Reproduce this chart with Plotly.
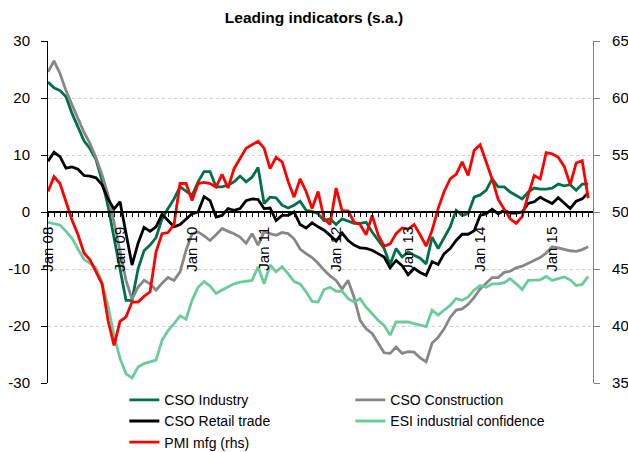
import plotly.graph_objects as go

# ---- categories (monthly, Jan 2008 .. Jul 2015) ----
month_names = ["Jan", "Feb", "Mar", "Apr", "May", "Jun",
               "Jul", "Aug", "Sep", "Oct", "Nov", "Dec"]
months = []
for k in range(91):
    months.append(f"{month_names[k % 12]} {8 + k // 12:02d}")
x_tick_text = [m if m.startswith("Jan") else "" for m in months]

# ---- series (left axis, balance) ----
cso_industry = [22.8, 21.8, 21.3, 20.2, 17.3, 14.9, 12.5, 11.1, 9.2, 5.5,
                1.0, -4.5, -10.0, -15.5, -15.5, -10.0, -6.8, -5.8, -4.5, -1.2,
                0.6, 2.3, 4.4, 3.6, 2.9, 5.3, 7.1, 7.1, 4.4, 4.4,
                4.7, 5.3, 6.3, 5.3, 6.1, 7.8, 1.5, 2.6, 2.5, 1.2,
                0.7, 1.2, 1.9, 0.3, 0.1, -0.3, -1.5, -1.2, -2.2, -1.2,
                -1.6, -2.0, -2.0, -1.8, -3.5, -5.0, -6.4, -9.2, -6.4, -7.9,
                -7.0, -7.6, -8.1, -9.1, -4.4, -6.4, -4.4, -2.6, 0.3, -0.6,
                -0.3, 2.6, 3.0, 3.8, 5.8, 4.4, 4.4, 3.5, 2.9, 2.3,
                3.5, 4.2, 4.0, 4.0, 4.2, 4.9, 4.6, 4.8, 3.8, 4.9,
                4.9]

cso_construction = [24.6, 26.5, 24.3, 21.3, 18.8, 16.4, 14.0, 12.0, 9.5, 6.5,
                    3.0, -1.8, -7.0, -12.0, -15.3, -13.2, -12.0, -12.6, -13.7, -12.5,
                    -11.5, -12.0, -10.5, -6.7, -3.8, -3.5, -4.2, -5.0, -4.0, -2.9,
                    -3.4, -3.8, -4.4, -5.5, -3.8, -5.8, -3.5, -3.8, -4.1, -3.6,
                    -3.8, -4.7, -6.5, -7.3, -8.0, -9.0, -10.2, -11.2, -12.0, -13.5,
                    -12.0, -15.0, -19.0, -20.5, -21.3, -23.0, -24.7, -24.8, -23.7, -24.8,
                    -24.5, -24.6, -25.6, -26.3, -23.0, -22.0, -20.5, -18.5, -17.2, -17.0,
                    -16.2, -15.0, -13.5, -12.5, -11.5, -11.5, -10.6, -10.4, -9.8, -9.5,
                    -9.0, -8.6, -8.0, -7.2, -6.1, -6.3, -6.6, -6.8, -6.9, -6.6,
                    -6.1]

cso_retail = [8.9, 10.5, 9.7, 7.7, 7.9, 7.5, 6.4, 6.3, 6.0, 4.8,
              2.3, 0.5, 1.8, -4.0, -9.3, -5.5, -2.7, -3.4, -2.6, -0.4,
              -1.5, -2.6, -2.2, -1.2, -0.3, 0.0, 2.7, 2.0, -0.9, -0.6,
              0.6, 0.3, 0.6, 2.0, 2.3, 2.2, 0.6, 0.7, -1.5, -0.6,
              -0.6, 0.0, -2.2, -2.8, -1.9, -2.6, -3.2, -4.1, -5.1, -3.7,
              -5.0, -5.8, -6.3, -6.4, -6.7, -7.3, -7.9, -9.8, -8.5, -9.4,
              -11.0, -9.9, -10.6, -11.1, -8.7, -9.2, -7.3, -6.4, -5.0, -3.9,
              -3.9, -3.3, -0.6, -0.3, 0.5, -0.3, 0.3, -0.2, -0.2, 0.0,
              1.5, 1.8, 2.6, 2.0, 1.5, 2.5, 1.5, 0.6, 1.9, 2.3,
              3.4]

esi_industry = [-1.8, -2.0, -2.3, -3.4, -4.6, -6.5, -8.3, -9.0, -9.8, -12.3,
                -16.5, -21.6, -25.7, -28.4, -29.1, -27.2, -26.6, -26.3, -26.0, -22.5,
                -20.8, -19.6, -18.2, -18.8, -15.5, -13.2, -12.2, -13.0, -14.3, -13.7,
                -13.2, -12.6, -12.3, -12.2, -12.0, -9.6, -12.6, -9.3, -10.5, -9.6,
                -10.8, -12.2, -12.6, -14.0, -15.7, -15.8, -13.6, -13.2, -13.9, -13.9,
                -15.2, -15.8, -15.2, -16.7, -17.8, -19.0, -19.9, -21.6, -19.3, -19.3,
                -19.3, -19.6, -19.8, -20.1, -17.2, -18.1, -17.2, -16.4, -15.2, -15.5,
                -14.9, -13.7, -12.9, -13.2, -12.6, -12.6, -12.4, -11.7, -12.6, -13.6,
                -12.0, -12.0, -11.9, -11.3, -12.0, -11.7, -11.4, -11.9, -12.9, -12.7,
                -11.3]

# ---- series (right axis, index) ----
pmi_mfg = [51.8, 53.1, 52.5, 50.8, 49.3, 48.0, 46.4, 45.8, 44.8, 43.7,
           40.5, 38.3, 40.4, 40.8, 42.1, 42.1, 42.6, 43.0, 46.5, 48.1,
           48.2, 48.9, 52.5, 52.5, 51.0, 52.5, 52.6, 52.5, 52.2, 53.3,
           52.1, 53.8, 54.7, 55.6, 55.9, 56.2, 55.6, 53.8, 54.8, 54.4,
           52.7, 51.3, 52.9, 51.8, 50.3, 51.8, 49.4, 48.9, 52.1, 50.1,
           50.1, 49.1, 48.9, 48.0, 49.7, 48.0, 47.0, 47.2, 48.1, 48.6,
           48.5, 48.9, 48.0, 47.0, 48.4, 50.3, 51.8, 52.9, 53.3, 54.4,
           53.2, 55.4, 55.9, 54.4, 52.9, 51.1, 50.3, 49.4, 49.0, 49.6,
           51.5, 53.2, 52.9, 55.2, 55.1, 54.8, 54.0, 52.4, 54.3, 54.5,
           51.2]

# ---- axis tick labels ----
left_ticks = [-30, -20, -10, 0, 10, 20, 30]
left_tick_text = ["-30", "-20", "-10", "0", "10", "20", "30"]
right_ticks = [35, 40, 45, 50, 55, 60, 65]
right_tick_text = ["35", "40", "45", "50", "55", "60", "65"]

series = [
    ("CSO Industry", cso_industry, "#00704A", "y"),
    ("CSO Construction", cso_construction, "#878787", "y"),
    ("CSO Retail trade", cso_retail, "#000000", "y"),
    ("ESI industrial confidence", esi_industry, "#6CCB9A", "y"),
    ("PMI mfg (rhs)", pmi_mfg, "#FF0000", "y2"),
]

fig = go.Figure()
for name, vals, color, yax in series:
    fig.add_trace(go.Scatter(
        x=months, y=vals, name=name, mode="lines", yaxis=yax,
        line=dict(color=color, width=2.8),
    ))

font_family = "Liberation Sans, Arial, Helvetica, sans-serif"

fig.update_layout(
    width=628, height=452,
    margin=dict(l=48, r=35, t=41, b=69, autoexpand=False),
    paper_bgcolor="white", plot_bgcolor="white",
    font=dict(family=font_family, size=15, color="black"),
    title=dict(text="<b>Leading indicators (s.a.)</b>", x=0.5, xref="container",
               xanchor="center", y=0.962, yref="container", yanchor="middle",
               font=dict(size=15.5, family=font_family, color="black")),
    showlegend=True,
    xaxis=dict(type="category", range=[0, 90.8], anchor="free", position=0.5,
               automargin=False,
               showline=True, linecolor="black", linewidth=1.5,
               ticks="outside", ticklen=4, tickwidth=1, tickcolor="black",
               tickvals=months, ticktext=x_tick_text, tickangle=-90,
               showgrid=False, zeroline=False, ticklabelstandoff=4,
               tickfont=dict(size=15)),
    yaxis=dict(range=[-30, 30], tickvals=left_ticks, ticktext=left_tick_text,
               automargin=False,
               showline=True, linecolor="black", linewidth=1,
               ticks="outside", ticklen=6, tickcolor="black",
               showgrid=True, gridcolor="#CFCFCF", griddash="dot", gridwidth=1,
               zeroline=False, ticklabelstandoff=8),
    yaxis2=dict(range=[35, 65], tickvals=right_ticks, ticktext=right_tick_text,
                overlaying="y", side="right", anchor="x", automargin=False,
                showline=True, linecolor="#808080", linewidth=1.2,
                ticks="outside", ticklen=6, tickcolor="#808080",
                showgrid=False, zeroline=False, ticklabelstandoff=9),
    legend=dict(orientation="h", x=0.198, xref="container", xanchor="left",
                y=0.15, yref="container", yanchor="top",
                entrywidth=181, entrywidthmode="pixels",
                font=dict(size=14, family=font_family),
                bgcolor="rgba(0,0,0,0)", traceorder="normal"),
)

fig.write_html(
    "out.html",
    config={"displayModeBar": False},
    post_script="document.body.style.margin='0px';document.body.style.padding='0px';",
)
